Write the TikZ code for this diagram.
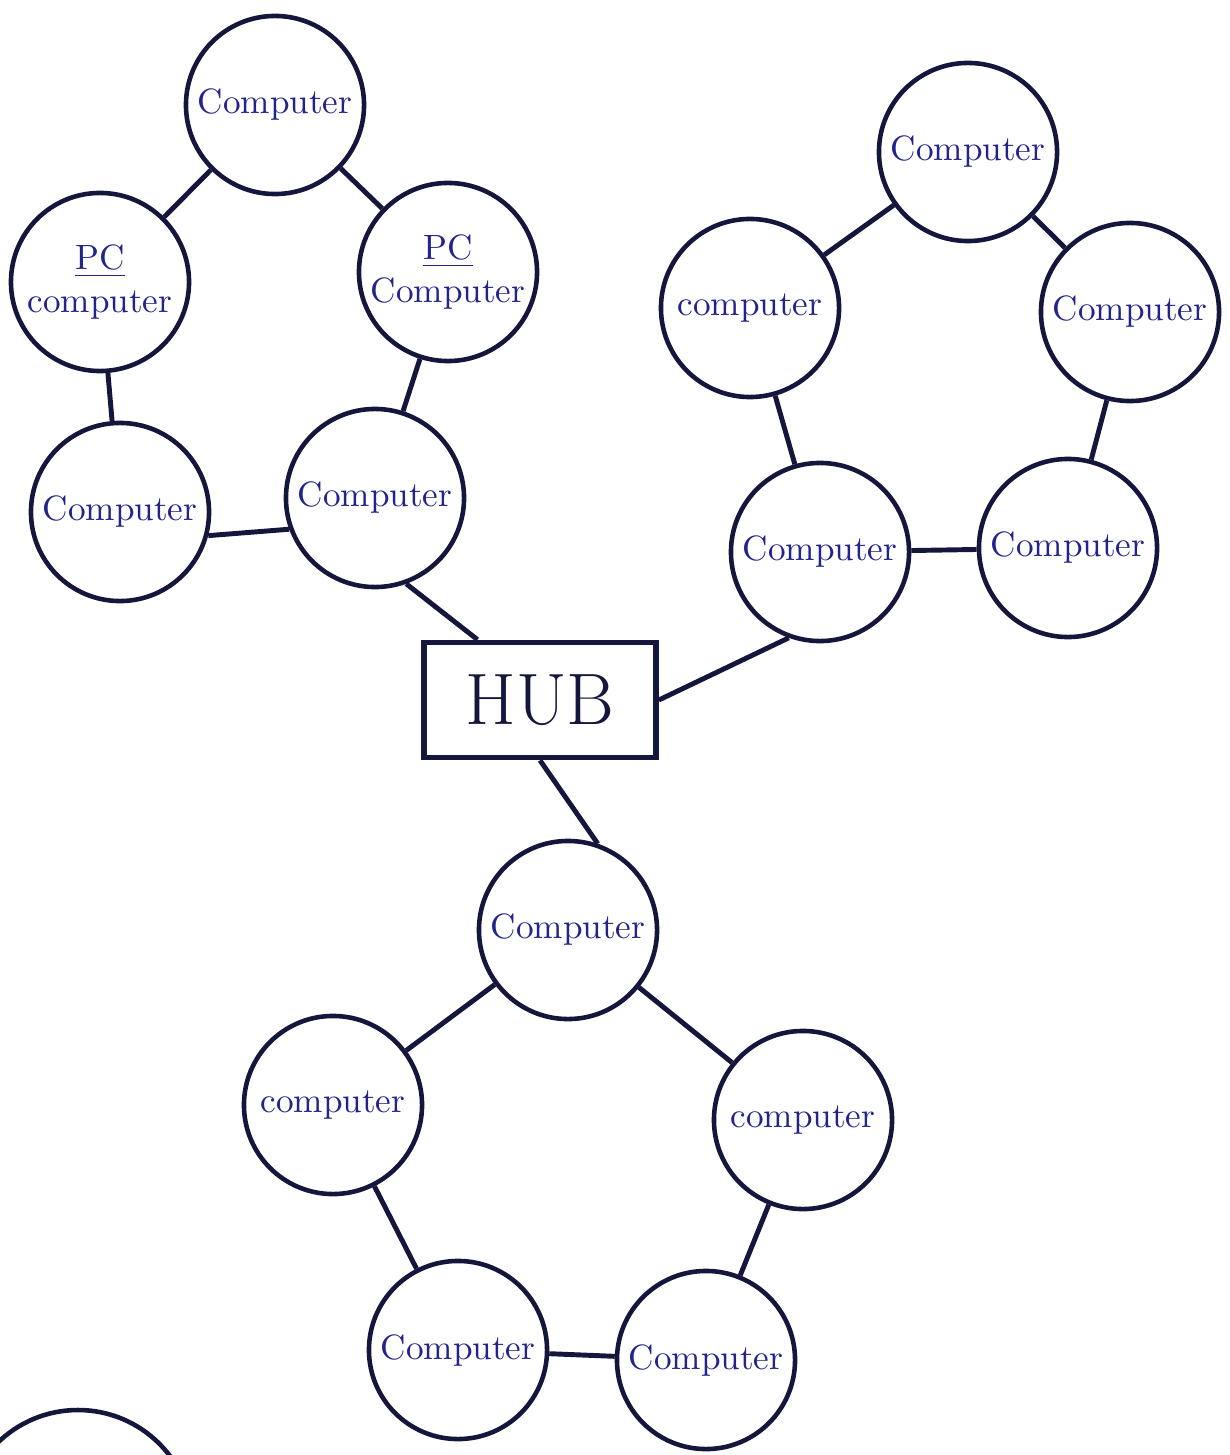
\documentclass[tikz,border=0pt]{standalone}
\usepackage{tikz}
\definecolor{ink}{RGB}{20,22,60}
\definecolor{pen}{RGB}{35,35,140}
\tikzset{
  pc/.style={circle, draw=ink, line width=1.3pt, inner sep=0pt, minimum size=1.78cm, text=pen, font=\normalsize, align=center},
  hubbox/.style={rectangle, draw=ink, line width=1.6pt, minimum width=2.32cm, minimum height=1.15cm, text=ink, font=\huge},
  link/.style={draw=ink, line width=1.4pt}
}
\begin{document}
\begin{tikzpicture}[x=0.01cm,y=-0.01cm]
\useasboundingbox[fill=white] (0,0) rectangle (1229,1455);
% ring 1 (top left)
\node[pc] (a1) at (275,105) {Computer};
\node[pc] (a2) at (100,282) {\underline{PC}\\computer};
\node[pc] (a3) at (448,272) {\underline{PC}\\Computer};
\node[pc] (a4) at (120,512) {Computer};
\node[pc] (a5) at (375,498) {Computer};
% ring 2 (top right)
\node[pc] (b1) at (968,152) {Computer};
\node[pc] (b2) at (750,308) {computer};
\node[pc] (b3) at (1130,312) {Computer};
\node[pc] (b4) at (820,552) {Computer};
\node[pc] (b5) at (1068,548) {Computer};
% hub
\node[hubbox] (hub) at (540,700) {HUB};
% ring 3 (bottom)
\node[pc] (c1) at (568,930) {Computer};
\node[pc] (c2) at (333,1105) {computer};
\node[pc] (c3) at (803,1120) {computer};
\node[pc] (c4) at (458,1350) {Computer};
\node[pc] (c5) at (706,1360) {Computer};
% links
\draw[link] (a1) -- (a2);
\draw[link] (a1) -- (a3);
\draw[link] (a2) -- (a4);
\draw[link] (a3) -- (a5);
\draw[link] (a4.-15) -- (a5.-160);
\draw[link] (b1) -- (b2);
\draw[link] (b1) -- (b3);
\draw[link] (b2) -- (b4);
\draw[link] (b3) -- (b5);
\draw[link] (b4) -- (b5);
\draw[link] (c1) -- (c2);
\draw[link] (c1) -- (c3);
\draw[link] (c2) -- (c4);
\draw[link] (c3) -- (c5);
\draw[link] (c4) -- (c5);
\draw[link] (a5.-70) -- (hub.136);
\draw[link] (hub.east) -- (b4.-110);
\draw[link] (hub.south) -- (c1.71);
% partial circle cut off at the bottom-left corner
\begin{scope}
\clip (0,0) rectangle (1229,1455);
\draw[draw=ink, line width=1.3pt] (78,1525) circle[radius=115];
\end{scope}
\end{tikzpicture}
\end{document}
